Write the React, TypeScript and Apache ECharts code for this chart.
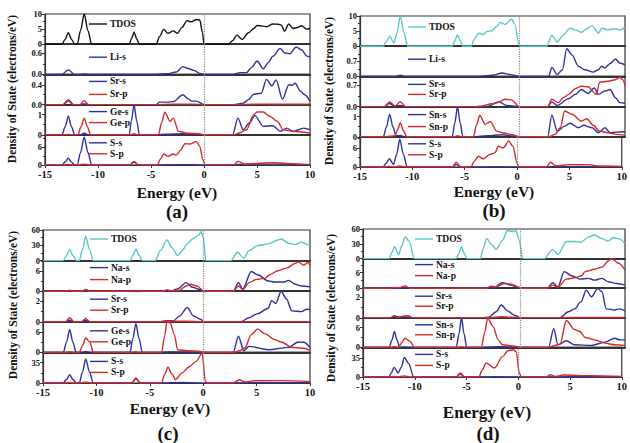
import React, { useEffect, useRef } from "react";
import * as echarts from "echarts";

// ---------------- Panel (a): LiSrGeS ----------------
const aTdos = [[-15,0],[-13.4,0],[-13.1,1.6],[-12.8,3.8],[-12.5,1.6],[-12.2,0],[-11.95,0],[-11.65,4.5],[-11.3,10],[-10.95,4.5],[-10.6,0],[-7.05,0],[-6.85,1.8],[-6.6,4],[-6.35,1.8],[-6.1,0],[-4.5,0],[-4.2,2.5],[-3.8,4.9],[-3.4,3.6],[-2.9,4.4],[-2.5,3.6],[-2.1,5.5],[-1.6,7.8],[-1.2,7.4],[-0.7,8.2],[-0.4,8],[-0.15,4],[0,0],[2.3,0],[2.7,1.2],[3.1,3],[3.6,1.6],[4.2,3.8],[4.7,5.2],[5,6.2],[5.5,6],[5.9,5.8],[6.5,6.7],[7,6.6],[7.3,6.3],[7.6,4.3],[8,6.7],[8.4,5.2],[8.8,5.5],[9.2,6.1],[9.7,5],[10,5.2]];
const aLiS = [[-15,0],[-13.4,0],[-12.8,0.13],[-12.2,0],[-11.6,0],[-11.3,0.01],[-10.8,0],[-4.5,0],[-3.5,0.02],[-2.6,0.07],[-2,0.22],[-1.5,0.17],[-1,0.12],[-0.4,0.03],[0,0],[2.8,0],[3.4,0.05],[4,0.05],[4.5,0.2],[5,0.38],[5.6,0.16],[6.1,0.35],[6.5,0.52],[7.2,0.74],[7.6,0.61],[8.1,0.59],[8.7,0.78],[9.2,0.7],[9.7,0.52],[10,0.49]];
const aSrS = [[-15,0],[-13.3,0],[-12.8,0.1],[-12.3,0],[-11.6,0],[-11.3,0.02],[-11,0],[-4.5,0],[-4.2,0.05],[-3.5,0.05],[-2.9,0.06],[-2,0.2],[-1.5,0.12],[-1.2,0.07],[-0.7,0.07],[0,0],[2.8,0],[3.7,0.03],[4.2,0.1],[4.7,0.21],[5.4,0.23],[5.9,0.51],[6.4,0.38],[6.8,0.5],[7.4,0.11],[8,0.4],[8.3,0.39],[8.6,0.43],[9.1,0.27],[9.5,0.2],[10,0.07]];
const aSrP = [[-15,0],[-13.3,0],[-12.8,0.07],[-12.3,0],[-11.7,0],[-11.3,0.08],[-10.9,0],[-4.5,0],[-3,0.01],[-1,0.01],[0,0],[3,0],[5,0.01],[10,0.01]];
const aGeS = [[-15,0],[-13.4,0],[-13.1,0.4],[-12.8,0.92],[-12.5,0.4],[-12.2,0],[-11.7,0],[-11.3,0.08],[-10.9,0],[-7.05,0],[-6.85,0.7],[-6.6,1.5],[-6.35,0.7],[-6.1,0],[-4.5,0],[-3.5,0.03],[-2,0.05],[-1,0.04],[0,0],[2.7,0],[3.2,0.83],[3.7,0.25],[4.3,0.6],[4.8,0.95],[5.6,0.42],[6.5,0.45],[7.2,0.17],[7.8,0.33],[8.4,0.17],[9.4,0.33],[10,0.25]];
const aGeP = [[-15,0],[-13.3,0],[-12.8,0.02],[-12.3,0],[-11.9,0],[-11.6,0.4],[-11.3,0.83],[-11,0.4],[-10.7,0],[-7,0],[-6.6,0.05],[-6.2,0],[-4.3,0],[-4,0.6],[-3.7,1.12],[-3.2,0.67],[-2.9,0.83],[-2.4,0.17],[-1.6,0.08],[-0.4,0.05],[0,0],[2.8,0],[3.4,0.1],[4,0.25],[4.7,1],[5,1.13],[5.6,1.13],[6.2,0.92],[6.9,0.67],[7.5,0.25],[8.4,0.17],[9.4,0.13],[10,0.08]];
const aSS = [[-15,0],[-13.4,0],[-13.1,1],[-12.8,2.3],[-12.5,1],[-12.2,0],[-11.95,0],[-11.65,4.2],[-11.3,9.3],[-10.95,4.2],[-10.6,0],[-7,0],[-6.6,1],[-6.2,0],[-4.5,0],[-3,0.1],[-1,0.1],[0,0],[2.8,0],[3.2,0.2],[5,0.3],[7,0.3],[10,0.1]];
const aSP = [[-15,0],[-13.3,0],[-12.8,0.2],[-12.3,0],[-11.8,0],[-11.3,0.3],[-10.8,0],[-7,0],[-6.6,1.2],[-6.2,0],[-4.4,0],[-4.1,2],[-3.8,3.7],[-3.4,2.9],[-2.9,3.7],[-2.6,3.3],[-2.2,5],[-1.8,7.1],[-1.3,7],[-0.7,7.9],[-0.4,6.2],[-0.1,1.8],[0.1,0],[2.8,0],[3.2,1.2],[3.9,0.3],[5,0.5],[6.5,0.8],[7.8,0.5],[9,0.3],[10,0.2]];
const aYMax = [10, 0.86, 0.61, 1.5, 10.1];
const aYStep = [5, 0.6, 0.4, 1, 6];
const aTicks = [["0", "5", "10"], ["0.0", "0.6"], ["0.0", "0.4"], ["0", "1"], ["0", "6"]];
const aNames = [["TDOS"], ["Li-s"], ["Sr-s", "Sr-p"], ["Ge-s", "Ge-p"], ["S-s", "S-p"]];

// ---------------- Panel (b): LiSrSnS ----------------
const bTdos = [[-15,0],[-12.8,0],[-12.5,1.6],[-12.2,3.3],[-11.8,1.1],[-11.5,4.5],[-11.2,10],[-10.85,4.5],[-10.5,0],[-6.3,0],[-6.05,1.8],[-5.8,3.8],[-5.55,1.8],[-5.3,0],[-4.5,0],[-4.2,2.5],[-3.8,4.3],[-3.4,3.8],[-3,4.9],[-2.6,5.1],[-2.1,6.5],[-1.8,7.9],[-1.3,7.2],[-0.7,8.9],[-0.4,7.4],[0,0.5],[0.2,0],[2.6,0],[3.1,3.6],[3.6,1.4],[4.2,3.8],[4.8,6],[5.3,5.4],[5.9,4.6],[6.4,5.8],[6.9,6.8],[7.5,4.3],[7.8,6],[8.4,5.4],[9.1,5.8],[9.5,5.4],[10,6.3]];
const bLiS = [[-15,0],[-11.6,0],[-11.2,0.06],[-10.8,0],[-4,0],[-2.5,0.05],[-1.6,0.16],[-0.8,0.08],[0,0],[2.8,0],[3.1,0.42],[3.6,0.08],[4.1,0.31],[4.5,1.28],[5,1],[5.6,0.47],[6.2,0.31],[7,0.2],[7.5,0.31],[7.8,0.47],[8.1,0.39],[8.6,0.59],[9.1,0.81],[9.5,0.62],[10,0.54]];
const bSrS = [[-15,0],[-12.7,0],[-12.2,0.1],[-11.8,0.02],[-11.2,0.04],[-10.7,0],[-3,0],[-1.9,0.16],[-1.2,0.04],[0,0],[2.7,0],[3.1,0.15],[3.6,0.04],[4.7,0.26],[5.3,0.4],[5.9,0.56],[6.5,0.43],[7.1,0.61],[7.5,0.4],[8.1,0.51],[8.6,0.56],[9.1,0.29],[9.5,0.13],[10,0.11]];
const bSrP = [[-15,0],[-12.7,0],[-12.2,0.15],[-11.7,0.02],[-11.2,0.16],[-10.7,0],[-4,0],[-3.8,0.01],[-2.2,0.11],[-1.3,0.24],[-0.7,0.22],[0,0],[2.7,0],[3.1,0.24],[3.7,0.13],[4.2,0.3],[4.7,0.4],[5.3,0.59],[5.9,0.67],[6.5,0.65],[7.3,0.4],[7.6,0.8],[8.4,0.83],[9.1,0.88],[9.5,0.96],[9.8,0.88],[10,0.67]];
const bSnS = [[-15,0],[-12.8,0],[-12.5,0.5],[-12.2,1.12],[-11.9,0.5],[-11.6,0.05],[-11.2,0.07],[-10.8,0],[-6.3,0],[-6.05,0.7],[-5.8,1.5],[-5.55,0.7],[-5.3,0],[-4.3,0],[-3,0.05],[-1.6,0.1],[-0.5,0.04],[0,0],[2.7,0],[3.1,1.07],[3.6,0.28],[4.3,0.53],[4.8,0.67],[5.6,0.45],[6.1,0.57],[6.9,0.45],[7.5,0.2],[8.1,0.45],[8.6,0.2],[9.2,0.23],[10,0.25]];
const bSnP = [[-15,0],[-12.6,0],[-12.2,0.03],[-11.7,0.05],[-11.45,0.35],[-11.2,0.7],[-10.9,0.3],[-10.6,0],[-6.2,0],[-5.8,0.05],[-5.4,0],[-4.3,0],[-4,0.6],[-3.7,1.07],[-3.2,0.62],[-2.7,0.75],[-2.1,0.28],[-1.6,0.2],[-0.7,0.12],[0,0],[2.8,0],[3.4,0.12],[3.9,0.45],[4.3,1.28],[5,1.12],[5.9,0.78],[6.4,0.9],[7,0.57],[7.6,0.28],[8.4,0.2],[9.2,0.12],[10,0.07]];
const bSS = [[-15,0],[-12.8,0],[-12.5,1.2],[-12.2,2.6],[-11.8,0.8],[-11.5,4],[-11.2,8.8],[-10.85,4],[-10.5,0],[-6.2,0],[-5.8,0.75],[-5.4,0],[-4,0],[-2,0.1],[0,0],[3,0],[3.2,0.1],[6,0.15],[10,0.1]];
const bSP = [[-15,0],[-12.6,0],[-12.2,0.2],[-11.7,0.05],[-11.2,0.3],[-10.7,0],[-6.2,0],[-5.8,1.5],[-5.4,0],[-4.4,0],[-4.1,1.8],[-3.7,3.4],[-3.2,2.6],[-2.6,4],[-2.1,4.5],[-1.8,6.6],[-1.3,6.1],[-0.8,8.3],[-0.4,6.6],[0,1.3],[0.15,0],[2.8,0],[3.2,1.5],[3.7,0.4],[5,0.75],[6.9,0.75],[7.8,0.3],[10,0.2]];
const bYMax = [10, 1.4, 0.99, 1.5, 9.6];
const bYStep = [5, 0.7, 0.7, 1, 6];
const bTicks = [["0", "5", "10"], ["0.0", "0.7"], ["0.0", "0.7"], ["0", "1"], ["0", "6"]];
const bNames = [["TDOS"], ["Li-s"], ["Sr-s", "Sr-p"], ["Sn-s", "Sn-p"], ["S-s", "S-p"]];

// ---------------- Panel (c): NaSrGeS ----------------
const cTdos = [[-15,0],[-13.1,0],[-12.8,10],[-12.5,21.6],[-12.2,10],[-11.9,0],[-11.6,0],[-11.3,22],[-11,47.7],[-10.65,22],[-10.3,0],[-6.85,0],[-6.6,10],[-6.3,22.9],[-6,10],[-5.7,0],[-4.5,0],[-4,20],[-3.4,40.5],[-2.9,25],[-2.4,9.8],[-1.95,20],[-1.5,32.7],[-1,42.5],[-0.4,50],[-0.2,56.9],[0,45.8],[0.25,0],[2.6,0],[3.2,16.3],[3.8,5.2],[4.3,19.6],[5.1,29.4],[6.1,32.7],[7,40.5],[7.3,42.5],[8,34],[8.6,31.4],[9.2,36],[9.8,31.4],[10,32]];
const cNaS = [[-15,0],[-12.9,0],[-12.5,0.2],[-12.1,0],[-11.4,0],[-11,0.3],[-10.6,0],[-6.7,0],[-6.3,0.1],[-5.9,0],[-3.8,0],[-3.4,0.3],[-3,0.1],[-2.4,0.7],[-1.6,2.6],[-1,1.2],[-0.3,0.5],[0,0],[2.8,0],[3.3,2.6],[3.7,0.7],[4.5,6],[5.1,5],[6.1,3.1],[6.7,2.8],[7.6,2.8],[8,3.3],[8.6,2.1],[9.2,1.6],[10,1.3]];
const cNaP = [[-15,0],[-12.9,0],[-12.5,0.3],[-12.1,0],[-11.4,0],[-11,0.5],[-10.6,0],[-6.7,0],[-6.3,0.2],[-5.9,0],[-3.8,0],[-3.4,0.4],[-3,0.1],[-2.2,0.3],[-1.6,1.6],[-1.2,2.1],[-0.5,1.5],[-0.2,0.7],[0,0],[2.8,0],[3.3,1.6],[3.7,0.5],[4.3,2.6],[5,3.6],[5.8,3.9],[6.2,5],[7,6.2],[7.8,7],[8.6,8.4],[8.9,8.9],[9.4,7.9],[9.8,8.7],[10,7.9]];
const cSrS = [[-15,0],[-12.9,0],[-12.5,0.15],[-12.1,0],[-11.4,0],[-11,0.15],[-10.6,0],[-4,0],[-3.4,0.1],[-2.8,0.1],[-2.2,0.57],[-1.5,1.4],[-0.9,0.57],[-0.2,0.23],[0,0],[3.5,0],[4.3,0.4],[5.1,0.8],[6.1,1.33],[6.4,2.07],[6.8,1.8],[7.3,3],[7.8,2.23],[8.3,1.07],[9.2,1],[9.7,1.23],[10,1.2]];
const cSrP = [[-15,0],[-12.9,0],[-12.5,0.4],[-12.1,0],[-11.4,0],[-11,0.33],[-10.6,0],[-4,0],[-3.4,0.05],[-1.5,0.05],[0,0],[3,0],[5,0.02],[10,0.02]];
const cGeS = [[-15,0],[-13.1,0],[-12.8,3],[-12.5,6.8],[-12.2,3],[-11.9,0],[-11.4,0],[-11,0.3],[-10.6,0],[-6.85,0],[-6.6,4],[-6.3,8.5],[-6,4],[-5.7,0],[-4,0],[-3.4,0.15],[-2,0.1],[0,0],[2.8,0],[3.3,4.8],[3.8,0.5],[4.3,1.8],[6.1,0.8],[8,1.5],[8.9,3.1],[9.4,3],[10,1.5]];
const cGeP = [[-15,0],[-12.9,0],[-12.5,0.2],[-12.1,0],[-11.6,0],[-11.3,2],[-11,4.3],[-10.6,3],[-10.3,0],[-6.7,0],[-6.3,0.2],[-5.9,0],[-3.9,0],[-3.6,5],[-3.4,9.1],[-3.1,8.8],[-2.7,5.3],[-2.4,0.8],[-1.5,0.5],[-0.2,0.3],[0,0],[2.8,0],[3.4,0.5],[3.9,1.3],[4.5,5.3],[5.1,7],[5.8,5.5],[6.7,3.8],[7.3,3.1],[8.3,1.5],[9.2,1.3],[10,0.6]];
const cSS = [[-15,0],[-13.1,0],[-12.8,6],[-12.5,14.1],[-12.2,6],[-11.9,0],[-11.6,0],[-11.3,19],[-11,41.2],[-10.65,19],[-10.3,0],[-6.7,0],[-6.3,7.3],[-5.9,0],[-4,0],[-2,1],[0,0],[3,0],[5,0.8],[10,0.5]];
const cSP = [[-15,0],[-12.9,0],[-12.5,1],[-12.1,0],[-11.5,0],[-11,2],[-10.5,0],[-6.7,0],[-6.3,8.5],[-5.9,0],[-3.9,0],[-3.6,15],[-3.3,27],[-2.9,15],[-2.6,5.6],[-2,17],[-1.3,28],[-0.7,36.7],[-0.1,50.8],[0.2,2.8],[0.4,0],[2.8,0],[3.4,5.6],[3.9,1.7],[4.8,4],[7.3,4],[10,2.3]];
const cYMax = [60, 9.3, 3.0, 9.1, 52.5];
const cYStep = [30, 6, 2, 6, 35];
const cTicks = [["0", "30", "60"], ["0", "6"], ["0", "2"], ["0", "6"], ["0", "35"]];
const cNames = [["TDOS"], ["Na-s", "Na-p"], ["Sr-s", "Sr-p"], ["Ge-s", "Ge-p"], ["S-s", "S-p"]];

// ---------------- Panel (d): NaSrSnS ----------------
const dTdos = [[-15,0],[-12.5,0],[-12.25,12],[-12,23.9],[-11.6,8],[-11.3,26],[-11,44],[-10.6,35.4],[-10.1,0],[-6.1,0],[-5.85,11],[-5.6,23.9],[-5.35,11],[-5.1,0],[-3.8,0],[-3.5,22],[-3.2,40.5],[-2.7,28],[-2.3,18.8],[-1.7,36.9],[-1.2,57],[-0.7,55],[-0.4,57],[-0.1,37],[0.25,0],[2.3,0],[3.1,18.8],[3.6,8],[4.4,34.7],[5.2,34.7],[5.8,33],[6.5,44],[7.1,47.7],[7.8,40.5],[8.4,35.4],[8.9,42.7],[9.4,40.5],[10,31.1]];
const dNaS = [[-15,0],[-11.4,0],[-11,0.3],[-10.6,0],[-3,0],[-2.5,0.3],[-1.7,2.1],[-0.9,1.2],[-0.2,0.3],[0,0],[2.6,0],[3.1,2.1],[3.6,0.5],[4.2,6.4],[4.9,4.8],[5.7,3.5],[6.5,3.8],[7.1,3.1],[7.8,3.8],[8.4,2.5],[9.2,1.8],[10,1.2]];
const dNaP = [[-15,0],[-12.4,0],[-12,0.3],[-11.6,0.1],[-11,0.9],[-10.5,0],[-3.2,0],[-2.8,0.8],[-2.3,0.5],[-1.5,1.8],[-0.9,1.6],[-0.2,0.5],[0.1,0],[2.6,0],[3.1,1.2],[3.6,0.4],[4.4,3.5],[5.2,4],[5.8,4.7],[6.2,6.4],[7.1,7.3],[7.8,8.1],[8.4,10.5],[8.7,11.4],[9.4,9.6],[10,7]];
const dSrS = [[-15,0],[-12.4,0],[-12,0.15],[-11.5,0.05],[-11,0.1],[-10.5,0],[-3.5,0],[-3,0.05],[-2.3,0.6],[-1.8,1.26],[-1.2,0.68],[-0.5,0.23],[0,0],[3.8,0],[4.6,0.6],[5.2,0.87],[5.8,1.58],[6.3,2.7],[6.8,2.06],[7.4,2.87],[7.8,2.55],[8.2,0.87],[9,0.77],[9.5,0.87],[10,0.68]];
const dSrP = [[-15,0],[-12.4,0],[-12,0.2],[-11.6,0.05],[-11.2,0.15],[-10.7,0.2],[-10.2,0],[-3,0],[-1.8,0.1],[-0.9,0.05],[0,0],[3,0],[5,0.03],[10,0.03]];
const dSnS = [[-15,0],[-12.5,0],[-12.25,2.2],[-12,4.85],[-11.75,2.2],[-11.5,0],[-11,0.1],[-10.6,0],[-6.1,0],[-5.85,4],[-5.6,9],[-5.35,4],[-5.1,0],[-3.5,0],[-2,0.2],[-0.5,0.1],[0,0],[2.7,0],[3.2,5.66],[3.6,0.8],[4.4,2],[5.2,0.8],[6.8,0.6],[8.1,1.6],[9,2.8],[9.5,2.3],[10,2.3]];
const dSnP = [[-15,0],[-12.4,0],[-12,0.2],[-11.6,0],[-11.3,1.5],[-11,2.8],[-10.5,1.8],[-10.1,0],[-6,0],[-5.6,0.2],[-5.2,0],[-3.7,0],[-3.4,4.5],[-3.1,8.9],[-2.6,6.4],[-2.1,2.3],[-1.7,0.8],[-0.5,0.4],[0,0],[2.7,0],[3.3,0.6],[3.8,1],[4.4,8.2],[5.2,5.4],[5.7,4.85],[6.2,3],[7.1,2.3],[8.1,1.3],[9,0.8],[10,0.6]];
const dSS = [[-15,0],[-12.5,0],[-12.25,8],[-12,17.6],[-11.6,7.3],[-11.3,18],[-11,35.8],[-10.6,25],[-10.1,0],[-6,0],[-5.6,5.5],[-5.2,0],[-3.8,0],[-2,0.5],[0,0],[3,0],[5,0.6],[10,0.5]];
const dSP = [[-15,0],[-12.4,0],[-12,1],[-11.6,0.3],[-11,2],[-10.5,0],[-6,0],[-5.6,7.3],[-5.2,0],[-3.8,0],[-3.5,12],[-3.1,25.5],[-2.3,16.4],[-1.5,37.6],[-1,47.9],[-0.5,49.7],[-0.2,46.7],[0.1,7.3],[0.3,0],[2.7,0],[3.1,4.2],[3.6,1.2],[4.4,3.6],[7,2.4],[10,1.2]];
const dYMax = [60, 11.4, 2.9, 9, 54];
const dYStep = [30, 6, 2, 6, 35];
const dTicks = [["0", "30", "60"], ["0", "6"], ["0", "2"], ["0", "6"], ["0", "35"]];
const dNames = [["TDOS"], ["Na-s", "Na-p"], ["Sr-s", "Sr-p"], ["Sn-s", "Sn-p"], ["S-s", "S-p"]];

const xTicks = [-15, -10, -5, 0, 5, 10];
const panelTags = ["(a)", "(b)", "(c)", "(d)"];
const yTitle = "Density of State (electrons/eV)";
const xTitle = "Energy (eV)";

const BLUE = "#30309e";
const RED = "#d62a2a";
const CYAN = "#5cc7c7";
const BLACK = "#111111";
const FONT = '"Liberation Serif", "Times New Roman", serif';

type Panel = {
  box: { l: number; r: number; t: number; b: number };
  tdosColor: string;
  data: number[][][][];
  names: string[][];
  yMax: number[];
  yStep: number[];
  ticks: string[][];
  legendX: number;
  rows: number[][];
  xTitle: { x: number; y: number; size: number };
  tag: { x: number; y: number; size: number };
  yTitle: { x: number; y: number };
};

const panels: Panel[] = [
  {
    box: { l: 45, r: 310, t: 14, b: 165 },
    tdosColor: BLACK,
    data: [[aTdos], [aLiS], [aSrS, aSrP], [aGeS, aGeP], [aSS, aSP]],
    names: aNames, yMax: aYMax, yStep: aYStep, ticks: aTicks,
    legendX: 89,
    rows: [[10], [13], [7, 20], [7, 18], [8, 19]],
    xTitle: { x: 177, y: 192, size: 15.5 },
    tag: { x: 177, y: 211, size: 19 },
    yTitle: { x: 12, y: 89 },
  },
  {
    box: { l: 360, r: 625, t: 16, b: 167 },
    tdosColor: CYAN,
    data: [[bTdos], [bLiS], [bSrS, bSrP], [bSnS, bSnP], [bSS, bSP]],
    names: bNames, yMax: bYMax, yStep: bYStep, ticks: bTicks,
    legendX: 408,
    rows: [[11], [13], [8, 18], [8, 20], [7, 18]],
    xTitle: { x: 494, y: 191, size: 15.5 },
    tag: { x: 494, y: 210, size: 19 },
    yTitle: { x: 329, y: 91 },
  },
  {
    box: { l: 43, r: 310, t: 230, b: 383 },
    tdosColor: CYAN,
    data: [[cTdos], [cNaS, cNaP], [cSrS, cSrP], [cGeS, cGeP], [cSS, cSP]],
    names: cNames, yMax: cYMax, yStep: cYStep, ticks: cTicks,
    legendX: 90,
    rows: [[9], [7, 19], [8, 19], [9, 20], [9, 20]],
    xTitle: { x: 170, y: 408, size: 15.5 },
    tag: { x: 168, y: 433, size: 19 },
    yTitle: { x: 13, y: 305 },
  },
  {
    box: { l: 363, r: 625, t: 229, b: 377 },
    tdosColor: CYAN,
    data: [[dTdos], [dNaS, dNaP], [dSrS, dSrP], [dSnS, dSnP], [dSS, dSP]],
    names: dNames, yMax: dYMax, yStep: dYStep, ticks: dTicks,
    legendX: 415,
    rows: [[10], [6, 17], [8, 18], [7, 17], [7, 18]],
    xTitle: { x: 487, y: 412, size: 17 },
    tag: { x: 488, y: 433, size: 19 },
    yTitle: { x: 331, y: 308 },
  },
];

function buildOption() {
  const grid: any[] = [];
  const xAxis: any[] = [];
  const yAxis: any[] = [];
  const series: any[] = [];
  const graphic: any[] = [];

  panels.forEach((p, pi) => {
    const h = (p.box.b - p.box.t) / 5;
    const w = p.box.r - p.box.l;
    for (let s = 0; s < 5; s++) {
      const gi = grid.length;
      const top = p.box.t + s * h;
      grid.push({ left: p.box.l, top, width: w, height: h, show: true, borderColor: "#333", borderWidth: 1.2, containLabel: false });
      const bottom = s === 4;
      xAxis.push({
        gridIndex: gi, type: "value", min: -15, max: 10, interval: 5,
        axisLine: { show: true, onZero: false, lineStyle: { color: "#333", width: bottom ? 1.2 : 2 } },
        axisTick: { show: bottom, length: 3, lineStyle: { color: "#333" } },
        axisLabel: {
          show: bottom, margin: 4, color: BLACK, fontFamily: FONT, fontWeight: "bold", fontSize: 10.5,
          formatter: (v: number) => (xTicks.includes(v) ? String(v) : ""),
        },
        splitLine: { show: false },
      });
      const ticks = p.ticks[s];
      yAxis.push({
        gridIndex: gi, type: "value", min: 0, max: p.yMax[s], interval: p.yStep[s],
        axisLine: { show: true, onZero: false, lineStyle: { color: "#333", width: 1.2 } },
        axisTick: { show: true, length: 3, lineStyle: { color: "#333" } },
        minorTick: { show: true, splitNumber: 2, length: 2, lineStyle: { color: "#333" } },
        axisLabel: {
          margin: 3, color: BLACK, fontFamily: FONT, fontWeight: "bold", fontSize: 8.5,
          formatter: (v: number) => {
            const t = ticks.find((k) => Math.abs(Number(k) - v) < 1e-6);
            return t === undefined ? "" : t;
          },
        },
        splitLine: { show: false },
      });
      const colors = s === 0 ? [p.tdosColor] : [BLUE, RED];
      p.data[s].forEach((d, k) => {
        series.push({
          type: "line", xAxisIndex: gi, yAxisIndex: gi, data: d,
          showSymbol: false, smooth: 0.3, smoothMonotone: "x", silent: true,
          lineStyle: { color: colors[k], width: 1.4 }, itemStyle: { color: colors[k] },
          z: 2 + k,
          markLine: k === 0 ? {
            silent: true, symbol: ["none", "none"], label: { show: false },
            lineStyle: { type: "dotted", color: "#888", width: 1.2 },
            data: [{ xAxis: 0 }],
          } : undefined,
        });
        const ly = top + p.rows[s][k];
        graphic.push({
          type: "line", silent: true,
          shape: { x1: p.legendX, y1: ly, x2: p.legendX + 18, y2: ly },
          style: { stroke: colors[k], lineWidth: 1.4 },
        });
        graphic.push({
          type: "text", silent: true, x: p.legendX + 21, y: ly,
          style: { text: p.names[s][k], fill: BLACK, fontFamily: FONT, fontWeight: "bold", fontSize: 9.5, align: "left", verticalAlign: "middle" },
        });
      });
    }
    graphic.push({
      type: "text", silent: true, x: p.yTitle.x, y: p.yTitle.y, rotation: Math.PI / 2,
      style: { text: yTitle, fill: BLACK, fontFamily: FONT, fontWeight: "bold", fontSize: 11.5, align: "center", verticalAlign: "middle" },
    });
    graphic.push({
      type: "text", silent: true, x: p.xTitle.x, y: p.xTitle.y,
      style: { text: xTitle, fill: BLACK, fontFamily: FONT, fontWeight: "bold", fontSize: p.xTitle.size, align: "center", verticalAlign: "middle" },
    });
    graphic.push({
      type: "text", silent: true, x: p.tag.x, y: p.tag.y,
      style: { text: panelTags[pi], fill: BLACK, fontFamily: FONT, fontWeight: "bold", fontSize: p.tag.size, align: "center", verticalAlign: "middle" },
    });
  });

  return { animation: false, backgroundColor: "#ffffff", grid, xAxis, yAxis, series, graphic };
}

export default function App() {
  const ref = useRef<HTMLDivElement>(null);
  useEffect(() => {
    if (!ref.current) return;
    const chart = echarts.init(ref.current, undefined, { renderer: "svg" });
    chart.setOption(buildOption() as any);
    return () => chart.dispose();
  }, []);
  return <div ref={ref} style={{ position: "absolute", left: 0, top: 0, width: 630, height: 443, background: "#fff" }} />;
}
